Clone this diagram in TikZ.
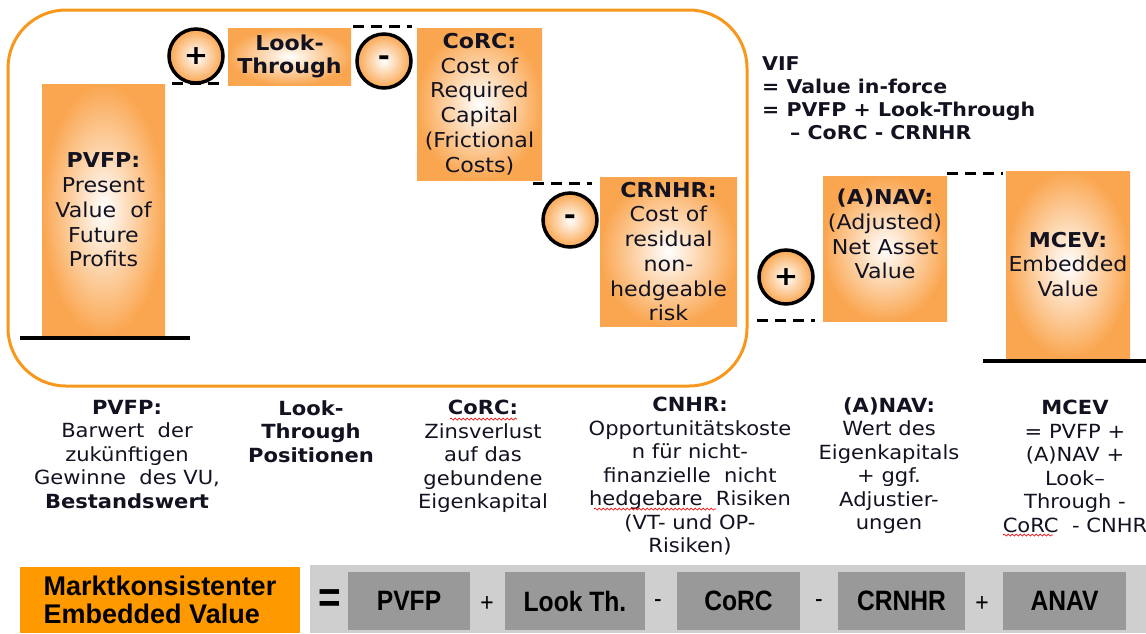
\documentclass[tikz,border=0pt]{standalone}
\usepackage{fontspec}
\setmainfont[FakeStretch=1.08]{DejaVu Sans}
\newfontfamily\narrowfont[FakeStretch=0.88]{Liberation Sans}
\newfontfamily\mevfont{Liberation Sans}
\usetikzlibrary{decorations.pathmorphing}
\definecolor{barorange}{RGB}{250,166,80}
\definecolor{frameorange}{RGB}{247,152,29}
\definecolor{boxorange}{RGB}{255,153,0}
\definecolor{bggray}{RGB}{207,207,207}
\definecolor{boxgray}{RGB}{153,153,153}
\definecolor{txt}{RGB}{18,18,32}
\begin{document}
\begin{tikzpicture}[x=1pt,y=-1pt,
  bar/.style={rectangle, inner sep=0pt, inner color=white, outer color=barorange, align=center, text=txt, font=\fontsize{20.5}{24.7}\selectfont},
  sign/.style={circle, draw=black, line width=3.5pt, inner color=white, outer color=barorange, minimum size=54pt, inner sep=0pt, text=black, font=\bfseries\fontsize{27}{27}\selectfont},
  levelsolid/.style={line width=4pt, black},
  leveldash/.style={line width=2.8pt, black, dash pattern=on 11pt off 7pt},
  desc/.style={align=center, anchor=north, inner sep=0pt, text=txt, font=\fontsize{19.5}{23.5}\selectfont},
  gbox/.style={fill=boxgray, inner sep=0pt, minimum height=58pt, text=black, font=\narrowfont\bfseries\fontsize{28}{28}\selectfont},
  opsign/.style={inner sep=0pt, text=black, font=\narrowfont\fontsize{26}{26}\selectfont},
  spell/.style={red, line width=0.7pt, decorate, decoration={snake, amplitude=1pt, segment length=4pt}}
]
\useasboundingbox (0,0) rectangle (1146,633);

% frame around VIF part
\draw[frameorange, line width=3pt, rounded corners=58pt] (8,10) rectangle (747,386);

% bars
\node[bar, minimum width=123pt, minimum height=252pt] (pvfp) at (103.5,210)
  {\textbf{PVFP:}\\Present\\Value\ \ of\\Future\\Profits};
\node[bar, minimum width=123pt, minimum height=57pt, font=\bfseries\fontsize{20.5}{23}\selectfont] (lt) at (289.5,56.5)
  {Look-\\Through};
\node[bar, minimum width=125pt, minimum height=152pt] (corc) at (479.5,104)
  {\textbf{CoRC:}\\Cost of\\Required\\Capital\\(Frictional\\Costs)};
\node[bar, minimum width=137pt, minimum height=149pt] (crnhr) at (668.5,251.5)
  {\textbf{CRNHR:}\\Cost of\\residual\\non-\\hedgeable\\risk};
\node[bar, minimum width=124pt, minimum height=145pt] (anav) at (885,248.5)
  {\textbf{(A)NAV:}\\(Adjusted)\\Net Asset\\Value\\[4pt]};
\node[bar, minimum width=124pt, minimum height=187pt] (mcev) at (1068,264.5)
  {\textbf{MCEV:}\\Embedded\\Value};

% signs
\node[sign] (s1) at (196,56) {+};
\node[sign] (s2) at (384,61) {-};
\node[sign] (s3) at (570,220) {-};
\node[sign] (s4) at (786,277) {+};

% level lines
\draw[levelsolid] (pvfp.south west) ++(-22,2) -- ++(170,0);
\draw[leveldash] (pvfp.north east) ++(7,0) -- ++(50,0);
\draw[leveldash] (lt.north east) ++(2,-1) -- ++(59,0);
\draw[leveldash] (corc.south east) ++(-9,3) -- ++(59,0);
\draw[leveldash] (anav.south west) ++(-66,-1) -- ++(58,0);
\draw[leveldash] (anav.north east) ++(0,-2) -- ++(56,0);
\draw[levelsolid] (mcev.south west) ++(-23,3) -- ++(163,0);

% VIF text
\node[anchor=north west, align=left, inner sep=0pt, text=txt, font=\bfseries\fontsize{19}{23}\selectfont] (vif) at (762,56)
  {VIF\\= Value in-force\\= PVFP + Look-Through\\\hspace*{28pt}– CoRC - CRNHR};

% descriptions
\node[desc] (dpvfp) at (127,400) {\textbf{PVFP:}\\Barwert\ \ der\\zukünftigen\\Gewinne\ \ des VU,\\\textbf{Bestandswert}};
\node[desc, font=\bfseries\fontsize{19.5}{23.5}\selectfont] (dlt) at (311,400) {Look-\\Through\\Positionen};
\node[desc] (dcorc) at (483,400) {\textbf{CoRC:}\\Zinsverlust\\auf das\\gebundene\\Eigenkapital};
\node[desc] (dcnhr) at (690,397) {\textbf{CNHR:}\\Opportunitätskoste\\n für nicht-\\finanzielle\ \ nicht\\hedgebare\ \ Risiken\\(VT- und OP-\\Risiken)};
\node[desc] (danav) at (889,397) {\textbf{(A)NAV:}\\Wert des\\Eigenkapitals\\+ ggf.\\Adjustier-\\ungen};
\node[desc] (dmcev) at (1075,400) {\textbf{MCEV}\\= PVFP +\\(A)NAV +\\Look–\\Through -\\CoRC\ \ - CNHR};

% spell-check marks
\draw[spell] (450,419) -- (517,419);
\draw[spell] (594,509) -- (716,509);
\draw[spell] (1003,535) -- (1053,535);

% bottom equation
\node[fill=bggray, minimum width=836pt, minimum height=68pt, inner sep=0pt] (eqbg) at (728,599) {};
\node[fill=boxorange, minimum width=280pt, minimum height=66pt, inner sep=0pt, align=left, text=black,
  font=\mevfont\bfseries\fontsize{27}{28}\selectfont] (mev) at (160,600) {Marktkonsistenter\\Embedded Value};
\node[opsign, font=\narrowfont\bfseries\fontsize{44}{44}\selectfont] (eq) at (330,601) {=};
\node[gbox, minimum width=122pt] (g1) at (409,601) {PVFP};
\node[opsign] (o1) at (487,604) {+};
\node[gbox, minimum width=140pt] (g2) at (575,601) {Look Th.};
\node[opsign] (o2) at (658,604) {-};
\node[gbox, minimum width=123pt] (g3) at (738.5,601) {CoRC};
\node[opsign] (o3) at (819,604) {-};
\node[gbox, minimum width=127pt] (g4) at (901.5,601) {CRNHR};
\node[opsign] (o4) at (982,604) {+};
\node[gbox, minimum width=123pt] (g5) at (1064.5,601) {ANAV};
\end{tikzpicture}
\end{document}
